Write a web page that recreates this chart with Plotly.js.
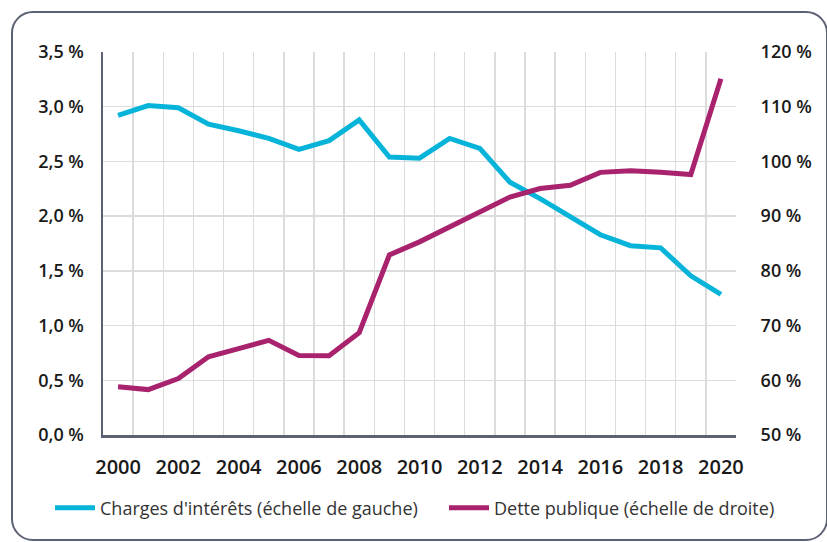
<!DOCTYPE html>
<html>
<head>
<meta charset="utf-8">
<script src="https://cdn.plot.ly/plotly-3.0.1.min.js"></script>
<style>
  html, body { margin: 0; padding: 0; background: #ffffff; }
  #wrap { position: relative; width: 827px; height: 542px; overflow: hidden; }
  #frame { position: absolute; left: 11px; top: 11px; width: 813px; height: 526px;
           border: 2px solid #5b6272; border-radius: 22px; box-sizing: content-box; }
  #chart { position: absolute; left: 0; top: 0; width: 827px; height: 542px; }
</style>
</head>
<body>
<div id="wrap">
  <div id="frame"></div>
  <div id="chart"></div>
</div>
<script>
const years = [2000,2001,2002,2003,2004,2005,2006,2007,2008,2009,2010,2011,2012,2013,2014,2015,2016,2017,2018,2019,2020];
const chargesInterets = [2.92,3.01,2.99,2.84,2.78,2.71,2.61,2.69,2.88,2.54,2.53,2.71,2.62,2.31,2.16,1.99,1.83,1.73,1.71,1.455,1.285];
const dettePublique = [58.8,58.3,60.3,64.3,65.8,67.3,64.55,64.5,68.7,82.9,85.3,88.0,90.8,93.5,95.05,95.65,98.0,98.3,98.0,97.6,115.1];
const xTicks = [2000,2002,2004,2006,2008,2010,2012,2014,2016,2018,2020];
const leftTicks = [0,0.5,1,1.5,2,2.5,3,3.5];
const leftLabels = ['0,0 %','0,5 %','1,0 %','1,5 %','2,0 %','2,5 %','3,0 %','3,5 %'];
const rightTicks = [50,60,70,80,90,100,110,120];
const rightLabels = ['50 %','60 %','70 %','80 %','90 %','100 %','110 %','120 %'];
const seriesNames = ["Charges d'intérêts (échelle de gauche)", "Dette publique (échelle de droite)"];

const gridLines = [];
for (let v = years[0] - 0.5; v <= years[years.length - 1] + 0.5 + 1e-9; v += 1) gridLines.push(v);

const yTickFont = { family: 'Open Sans, sans-serif', size: 18, color: '#1a1a1a', weight: 600 };
const xTickFont = { family: 'Open Sans, sans-serif', size: 20, color: '#1a1a1a', weight: 600 };
const legendFont = { family: 'Open Sans, sans-serif', size: 18, color: '#333333' };

const traces = [
  { x: years, y: chargesInterets, name: seriesNames[0], type: 'scatter', mode: 'lines',
    line: { color: '#06b4d9', width: 5 }, yaxis: 'y', legend: 'legend' },
  { x: years, y: dettePublique, name: seriesNames[1], type: 'scatter', mode: 'lines',
    line: { color: '#a8226e', width: 5 }, yaxis: 'y2', legend: 'legend2' }
];

const layout = {
  width: 827, height: 542,
  margin: { l: 103, r: 91, t: 52, b: 107, autoexpand: false },
  paper_bgcolor: 'rgba(0,0,0,0)', plot_bgcolor: 'rgba(0,0,0,0)',
  showlegend: true,
  legend: { orientation: 'h', xref: 'container', yref: 'container', x: 50 / 827, xanchor: 'left',
            y: 34 / 542, yanchor: 'middle', font: legendFont, itemwidth: 40, bgcolor: 'rgba(0,0,0,0)' },
  legend2: { orientation: 'h', xref: 'container', yref: 'container', x: 444 / 827, xanchor: 'left',
            y: 34 / 542, yanchor: 'middle', font: legendFont, itemwidth: 40, bgcolor: 'rgba(0,0,0,0)' },
  xaxis: {
    range: [years[0] - 0.5, years[years.length - 1] + 0.5],
    tickmode: 'array', tickvals: xTicks, ticktext: xTicks.map(String),
    showgrid: false, zeroline: false, ticks: 'outside', ticklen: 12, tickcolor: 'rgba(0,0,0,0)',
    showline: true, linecolor: '#5b6272', linewidth: 2.5,
    tickfont: xTickFont,
    minor: { tickmode: 'array', tickvals: gridLines, showgrid: true, gridcolor: '#dcdcdc', gridwidth: 1.5, ticks: '' }
  },
  yaxis: {
    range: [0, 3.5], tickmode: 'array', tickvals: leftTicks, ticktext: leftLabels,
    showgrid: true, gridcolor: '#dcdcdc', gridwidth: 1.5, zeroline: false,
    showline: true, linecolor: '#5b6272', linewidth: 2.5, ticks: 'outside', ticklen: 13, tickcolor: 'rgba(0,0,0,0)',
    tickfont: yTickFont
  },
  yaxis2: {
    range: [50, 120], overlaying: 'y', side: 'right',
    tickmode: 'array', tickvals: rightTicks, ticktext: rightLabels,
    showgrid: false, zeroline: false, showline: false, ticks: 'outside', ticklen: 20, tickcolor: 'rgba(0,0,0,0)',
    tickfont: yTickFont
  }
};

Plotly.newPlot('chart', traces, layout, { displayModeBar: false, staticPlot: true });
</script>
</body>
</html>
